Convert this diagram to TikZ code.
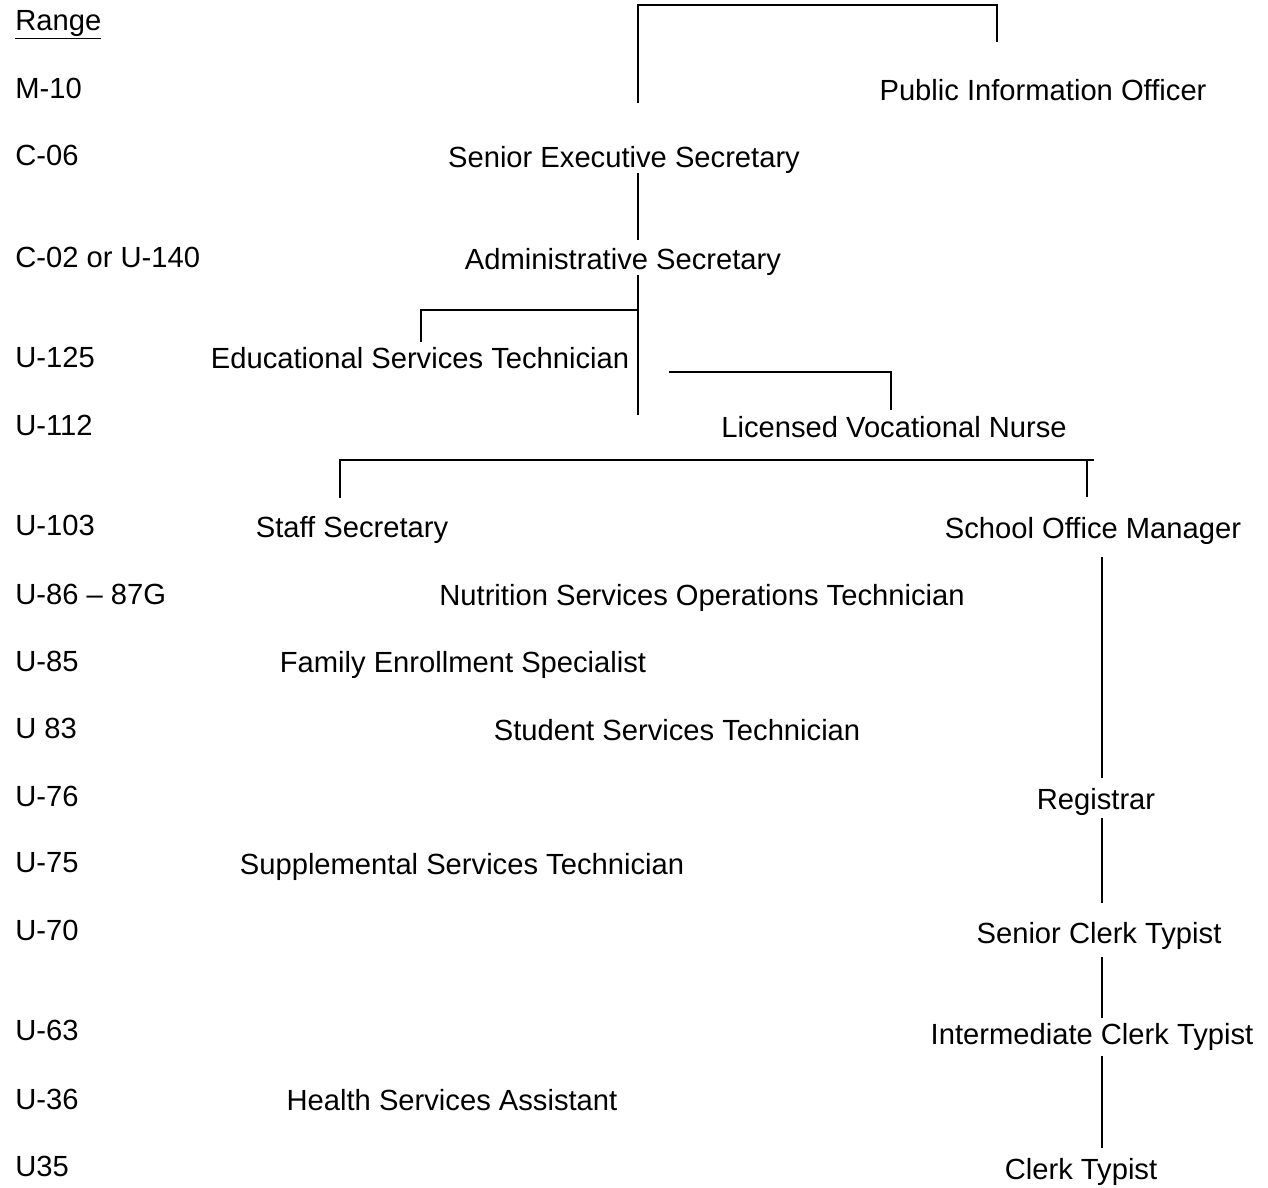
\documentclass[tikz,border=0pt]{standalone}
\usepackage{fontspec}
\setmainfont{Liberation Sans}
\usetikzlibrary{calc}
\begin{document}
\begin{tikzpicture}[x=0.02cm,y=-0.02cm]
      \tikzstyle{grade} = [anchor=base west, inner sep=0pt, font=\fontsize{16.6}{20}\selectfont]
      \tikzstyle{job} = [anchor=base, inner sep=0pt, text height=0.42cm, text depth=0.12cm, font=\fontsize{16.6}{20}\selectfont]
      \tikzstyle{link} = [draw, line width=1pt]

      \useasboundingbox (0,0) rectangle (1268,1187);

      % salary ranges
      \node[grade] (r0) at (15,30) {\underline{Range}};
      \node[grade] (r1) at (15,98) {M-10};
      \node[grade] (r2) at (15,165) {C-06};
      \node[grade] (r3) at (15,267) {C-02 or U-140};
      \node[grade] (r4) at (15,367) {U-125};
      \node[grade] (r5) at (15,435) {U-112};
      \node[grade] (r6) at (15,535) {U-103};
      \node[grade] (r7) at (15,604) {U-86 – 87G};
      \node[grade] (r8) at (15,671) {U-85};
      \node[grade] (r9) at (15,738) {U 83};
      \node[grade] (r10) at (15,806) {U-76};
      \node[grade] (r11) at (15,872) {U-75};
      \node[grade] (r12) at (15,940) {U-70};
      \node[grade] (r13) at (15,1040) {U-63};
      \node[grade] (r14) at (15,1109) {U-36};
      \node[grade] (r15) at (15,1176) {U35};

      % positions
      \node[job] (pio) at (1043,100) {Public Information Officer};
      \node[job] (ses) at (624,167) {Senior Executive Secretary};
      \node[job] (adm) at (623,269) {Administrative Secretary};
      \node[job] (est) at (420,368) {Educational Services Technician};
      \node[job] (lvn) at (894,437) {Licensed Vocational Nurse};
      \node[job] (ss) at (352,537) {Staff Secretary};
      \node[job] (som) at (1093,538) {School Office Manager};
      \node[job] (nsot) at (702,605) {Nutrition Services Operations Technician};
      \node[job] (fes) at (463,672) {Family Enrollment Specialist};
      \node[job] (sst) at (677,740) {Student Services Technician};
      \node[job] (reg) at (1096,809) {Registrar};
      \node[job] (sup) at (462,874) {Supplemental Services Technician};
      \node[job] (sct) at (1099,943) {Senior Clerk Typist};
      \node[job] (ict) at (1092,1044) {Intermediate Clerk Typist};
      \node[job] (hsa) at (452,1110) {Health Services Assistant};
      \node[job] (ct) at (1081,1179) {Clerk Typist};

      \coordinate (spine) at (638,0);
      \coordinate (rspine) at (1102,0);

      % connectors
      \draw[link] ($(ses.north -| spine)+(0,-43)$) -- ++(0,-98) -| ($(pio.north)+(-46,-37)$);
      \draw[link] (ses.south -| spine) -- ($(adm.north -| spine)+(0,-8)$);
      \draw[link] (adm.south -| spine) -- ++(0,140);
      \draw[link] ($(adm.south -| spine)+(0,35)$) -| ($(est.north)+(1,-5)$);
      \draw[link] ($(lvn.north)+(-225,-44)$) -| ($(lvn.north)+(-3,-6)$);
      \draw[link] ($(ss.north)+(-12,-18)$) |- ($(som.north)+(1,-57)$);
      \draw[link] ($(som.north)+(-6,-57)$) -- ($(som.north)+(-6,-20)$);
      \draw[link] ($(som.south -| rspine)+(0,13)$) -- ($(reg.north -| rspine)+(0,-10)$);
      \draw[link] ($(reg.south -| rspine)+(0,3)$) -- ($(sct.north -| rspine)+(0,-19)$);
      \draw[link] ($(sct.south -| rspine)+(0,8)$) -- ($(ict.north -| rspine)+(0,-5)$);
      \draw[link] ($(ict.south -| rspine)+(0,6)$) -- ($(ct.north -| rspine)+(0,-10)$);
    \end{tikzpicture}
\end{document}
